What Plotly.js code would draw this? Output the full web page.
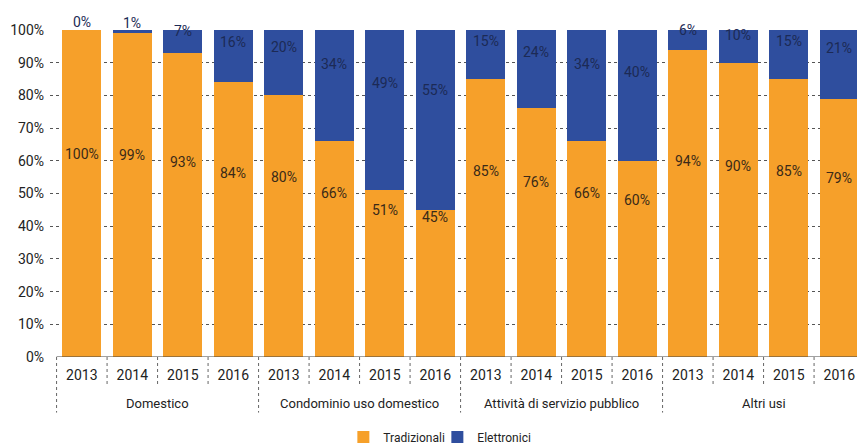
<!DOCTYPE html>
<html>
<head>
<meta charset="utf-8">
<script src="https://cdn.plot.ly/plotly-3.0.1.min.js"></script>
<style>html,body{margin:0;padding:0;background:#fff;}#chart{width:857px;height:446px;}</style>
</head>
<body>
<div id="chart"></div>
<script>
const groups = ["Domestico", "Condominio uso domestico", "Attività di servizio pubblico", "Altri usi"];
const years = ["2013", "2014", "2015", "2016"];
const tradizionali = [100, 99, 93, 84, 80, 66, 51, 45, 85, 76, 66, 60, 94, 90, 85, 79];
const elettronici = [0, 1, 7, 16, 20, 34, 49, 55, 15, 24, 34, 40, 6, 10, 15, 21];
const yTicks = [0, 10, 20, 30, 40, 50, 60, 70, 80, 90, 100];

const ORANGE = '#F6A02A';
const BLUE = '#2F4E9E';
const FONT = 'Roboto, "Liberation Sans", sans-serif';

const xIdx = [];
const tickText = [];
groups.forEach((g, gi) => years.forEach((y, yi) => { xIdx.push(gi * years.length + yi); tickText.push(y); }));

const traces = [
  {type: 'bar', name: 'Tradizionali', x: xIdx, y: tradizionali, marker: {color: ORANGE}, hoverinfo: 'skip'},
  {type: 'bar', name: 'Elettronici', x: xIdx, y: elettronici, marker: {color: BLUE}, hoverinfo: 'skip'}
];

const annotations = [];
xIdx.forEach((x, i) => {
  annotations.push({x: x, y: (27 + 0.35 * tradizionali[i]) / 100, xref: 'x', yref: 'paper', yanchor: 'middle',
    text: tradizionali[i] + '%', showarrow: false, font: {family: FONT, size: 14, color: '#3a2a18'}});
  annotations.push({x: x, y: (100 - (0.38 * elettronici[i] - 2.4)) / 100, xref: 'x', yref: 'paper', yanchor: 'middle',
    text: elettronici[i] + '%', showarrow: false, font: {family: FONT, size: 14, color: '#1c2a55'}});
});
// group labels, centred under each group of years
groups.forEach((g, gi) => {
  const cx = gi * years.length + (years.length - 1) / 2;
  annotations.push({x: cx, y: -0.142, xref: 'x', yref: 'paper', yanchor: 'middle', text: g, showarrow: false,
    font: {family: FONT, size: 13, color: '#222'}});
});

const shapes = [];
const n = xIdx.length;
for (let b = 0; b <= n; b++) {
  const isGroup = b % years.length === 0;
  shapes.push({type: 'line', xref: 'x', yref: 'paper', x0: b - 0.5, x1: b - 0.5, y0: 0, y1: isGroup ? -0.17 : -0.085,
    line: {color: '#666', width: 1, dash: 'dot'}});
}
shapes.push({type: 'line', xref: 'x', yref: 'y', x0: -0.5, x1: n, y0: 0, y1: 0, line: {color: '#444', width: 1.2}});

const layout = {
  width: 857, height: 446,
  margin: {l: 50, r: 0, t: 30, b: 89, autoexpand: false},
  paper_bgcolor: '#fff', plot_bgcolor: '#fff',
  barmode: 'stack', bargap: 0.23,
  showlegend: true,
  legend: {orientation: 'h', x: 0.48, xanchor: 'center', y: -0.245, yanchor: 'middle',
    font: {family: FONT, size: 12, color: '#222'}, itemwidth: 30, entrywidth: 49, traceorder: 'normal'},
  xaxis: {range: [-0.63, 15.35], tickmode: 'array', tickvals: xIdx, ticktext: tickText, ticks: '',
    showgrid: false, zeroline: false, showline: false, ticklabelstandoff: 8, automargin: false,
    tickfont: {family: FONT, size: 14, color: '#222'}, fixedrange: true},
  yaxis: {range: [0, 100], tickmode: 'array', tickvals: yTicks, ticktext: yTicks.map(v => v + '%'),
    showgrid: true, gridcolor: '#555', griddash: 'dot', gridwidth: 1, zeroline: false, showline: false,
    ticks: '', ticklabelstandoff: 5, automargin: false, tickfont: {family: FONT, size: 14, color: '#222'}, fixedrange: true},
  annotations: annotations,
  shapes: shapes
};

Plotly.newPlot('chart', traces, layout, {displayModeBar: false, staticPlot: true});
</script>
</body>
</html>
